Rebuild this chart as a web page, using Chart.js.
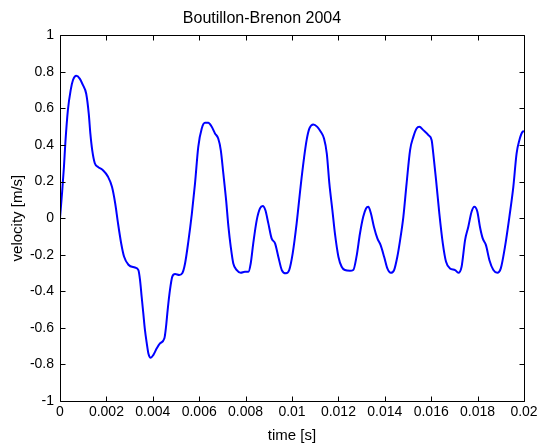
<!DOCTYPE html>
<html>
<head>
<meta charset="utf-8">
<script src="https://cdn.jsdelivr.net/npm/chart.js@4.4.1/dist/chart.umd.min.js"></script>
<style>
html,body{margin:0;padding:0;background:#fff;}
#wrap{width:538px;height:446px;}
</style>
</head>
<body>
<div id="wrap"><canvas id="c" width="538" height="446"></canvas></div>
<script>
const titleText = "Boutillon-Brenon 2004";
const xLabel = "time [s]";
const yLabel = "velocity [m/s]";

const xTicks = [0,0.002,0.004,0.006,0.008,0.01,0.012,0.014,0.016,0.018,0.02];
const xTickLabels = ["0","0.002","0.004","0.006","0.008","0.01","0.012","0.014","0.016","0.018","0.02"];
const yTicks = [-1,-0.8,-0.6,-0.4,-0.2,0,0.2,0.4,0.6,0.8,1];
const yTickLabels = ["-1","-0.8","-0.6","-0.4","-0.2","0","0.2","0.4","0.6","0.8","1"];

const time = [
0,0.00009,0.00017,0.00023,0.00034,0.00046,0.00056,0.0007,0.00085,0.00099,
0.00113,0.00124,0.00131,0.00139,0.0015,0.00164,0.00185,0.00207,0.00224,0.00238,
0.0025,0.00264,0.00276,0.00295,0.00323,0.00338,0.00345,0.00352,0.00359,0.00366,
0.00374,0.00381,0.00391,0.00402,0.00417,0.00431,0.0045,0.00457,0.00464,0.00474,
0.00484,0.00496,0.00514,0.00527,0.00539,0.00553,0.00568,0.00582,0.00596,0.00611,
0.00625,0.00639,0.00654,0.00668,0.00682,0.00693,0.00704,0.00716,0.00726,0.00736,
0.00747,0.00762,0.00779,0.00797,0.00812,0.00822,0.00833,0.00848,0.00862,0.00874,
0.00885,0.00898,0.00912,0.00927,0.00941,0.00956,0.00974,0.00988,0.01003,0.0102,
0.01037,0.01052,0.01063,0.01075,0.01092,0.01109,0.01124,0.01138,0.0115,0.01161,
0.01174,0.01185,0.012,0.01214,0.01228,0.0125,0.01264,0.01278,0.01293,0.01307,
0.01319,0.01329,0.0134,0.01353,0.01368,0.01382,0.01397,0.01411,0.01426,0.0144,
0.01454,0.01466,0.0148,0.01494,0.01509,0.01523,0.01537,0.01549,0.01566,0.01588,
0.01602,0.01609,0.01621,0.01635,0.0165,0.01664,0.01681,0.01703,0.01717,0.01731,
0.01746,0.0176,0.01774,0.01786,0.01799,0.0181,0.01822,0.01836,0.01851,0.01868,
0.01885,0.019,0.01918,0.01937,0.01954,0.01968,0.0198,0.01994,0.02
];
const velocity = [
0.0,0.14,0.28,0.41,0.59,0.70,0.755,0.778,0.763,0.727,
0.68,0.57,0.46,0.37,0.30,0.28,0.262,0.226,0.171,0.08,
-0.028,-0.14,-0.21,-0.255,-0.27,-0.284,-0.339,-0.43,-0.52,-0.61,
-0.685,-0.74,-0.763,-0.749,-0.712,-0.685,-0.657,-0.594,-0.503,-0.393,
-0.32,-0.306,-0.311,-0.302,-0.248,-0.13,0.02,0.19,0.39,0.49,
0.521,0.521,0.499,0.463,0.435,0.372,0.244,0.098,-0.047,-0.157,
-0.248,-0.284,-0.299,-0.293,-0.293,-0.248,-0.138,-0.011,0.053,0.066,
0.044,-0.029,-0.111,-0.138,-0.211,-0.284,-0.302,-0.284,-0.193,-0.029,
0.171,0.33,0.426,0.49,0.512,0.499,0.472,0.435,0.353,0.19,
0.044,-0.084,-0.211,-0.266,-0.284,-0.288,-0.284,-0.211,-0.084,0.007,
0.053,0.062,0.026,-0.047,-0.111,-0.148,-0.211,-0.275,-0.299,-0.284,
-0.211,-0.12,0.007,0.19,0.372,0.444,0.49,0.499,0.481,0.454,
0.426,0.353,0.208,0.026,-0.138,-0.239,-0.275,-0.284,-0.299,-0.266,
-0.12,-0.047,0.035,0.062,0.035,-0.047,-0.111,-0.148,-0.23,-0.284,
-0.299,-0.275,-0.157,0.007,0.171,0.353,0.426,0.472,0.475
];

const points = time.map((t,i)=>({x:t,y:velocity[i]}));
const FONT = "'Liberation Sans', Arial, sans-serif";

const boxPlugin = {
  id:'matlabBox',
  afterDraw(chart){
    const ctx = chart.ctx;
    const a = chart.chartArea;
    const L = Math.round(a.left)+0.5, R = Math.round(a.right)+0.5;
    const T = Math.round(a.top)+0.5, B = Math.round(a.bottom)+0.5;
    ctx.save();
    ctx.strokeStyle = '#000';
    ctx.lineWidth = 1;
    ctx.beginPath();
    ctx.rect(L, T, R-L, B-T);
    const tl = 5;
    chart.scales.x.ticks.forEach(tk=>{
      const px = Math.round(chart.scales.x.getPixelForValue(tk.value))+0.5;
      ctx.moveTo(px,B); ctx.lineTo(px,B-tl);
      ctx.moveTo(px,T); ctx.lineTo(px,T+tl);
    });
    chart.scales.y.ticks.forEach(tk=>{
      const py = Math.round(chart.scales.y.getPixelForValue(tk.value))+0.5;
      ctx.moveTo(L,py); ctx.lineTo(L+tl,py);
      ctx.moveTo(R,py); ctx.lineTo(R-tl,py);
    });
    ctx.stroke();
    ctx.restore();
  }
};

new Chart(document.getElementById('c'), {
  type:'line',
  data:{datasets:[{
    data:points,
    borderColor:'#0000FF',
    borderWidth:2,
    pointRadius:0,
    fill:false,
    cubicInterpolationMode:'monotone'
  }]},
  options:{
    responsive:false,
    animation:false,
    devicePixelRatio:1,
    layout:{padding:{left:0,right:14,top:0,bottom:0}},
    plugins:{
      legend:{display:false},
      tooltip:{enabled:false},
      title:{display:true,text:titleText,color:'#000',
        font:{family:FONT,size:16,weight:'normal'},padding:{top:9,bottom:7}}
    },
    scales:{
      x:{
        type:'linear',min:0,max:0.02,
        afterBuildTicks(s){ s.ticks = xTicks.map(v=>({value:v})); },
        afterFit(s){ s.height = 45; s.paddingLeft = 0; s.paddingRight = 0; },
        ticks:{color:'#000',font:{family:FONT,size:14},padding:3,maxRotation:0,autoSkip:false,
          callback:(v,i)=>xTickLabels[i]},
        grid:{display:false,drawTicks:false},
        border:{display:false},
        title:{display:true,text:xLabel,color:'#000',font:{family:FONT,size:15},padding:{top:0,bottom:1}}
      },
      y:{
        min:-1,max:1,
        afterBuildTicks(s){ s.ticks = yTicks.map(v=>({value:v})); },
        afterFit(s){ s.width = 60; s.paddingTop = 0; s.paddingBottom = 0; },
        ticks:{color:'#000',font:{family:FONT,size:14},padding:6,autoSkip:false,
          callback:(v,i)=>yTickLabels[i]},
        grid:{display:false,drawTicks:false},
        border:{display:false},
        title:{display:true,text:yLabel,color:'#000',font:{family:FONT,size:15},padding:{top:9,bottom:0}}
      }
    }
  },
  plugins:[boxPlugin]
});
</script>
</body>
</html>
